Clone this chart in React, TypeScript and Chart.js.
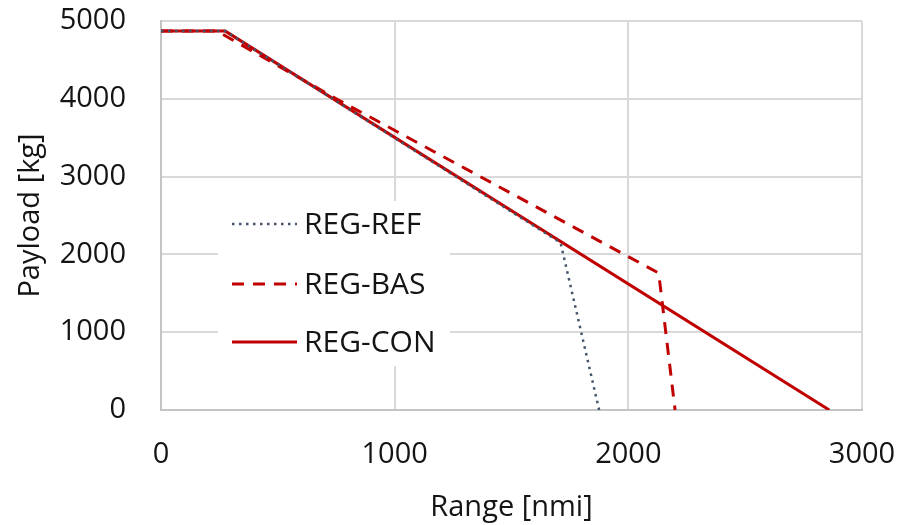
import React, { useEffect, useRef } from "react";
import { Chart, registerables } from "chart.js";

Chart.register(...registerables);

const refRange = [0, 275, 1710, 1875];
const refPayload = [4870, 4870, 2150, 0];
const basRange = [0, 240, 750, 2130, 2200];
const basPayload = [4870, 4870, 4000, 1760, 0];
const conRange = [0, 275, 2860];
const conPayload = [4870, 4870, 0];
const seriesNames = ["REG-REF", "REG-BAS", "REG-CON"];
const xTicks = [0, 1000, 2000, 3000];
const yTicks = [0, 1000, 2000, 3000, 4000, 5000];
const xTitle = "Range [nmi]";
const yTitle = "Payload [kg]";

const FONT = "'Open Sans', 'Noto Sans', sans-serif";
const TEXT = "#141414";
const FS = 29;

const toPts = (xs: number[], ys: number[]) => xs.map((x, i) => ({ x, y: ys[i] }));

const legendPlugin = {
  id: "innerLegend",
  afterDatasetsDraw(chart: any) {
    const ctx = chart.ctx;
    const a = chart.chartArea;
    const boxX = a.left + 57;
    const boxY = a.top + 180;
    ctx.save();
    ctx.fillStyle = "#ffffff";
    ctx.fillRect(boxX, boxY, 232, 165);
    const rows = [224, 284, 342];
    chart.data.datasets.forEach((ds: any, i: number) => {
      const y = rows[i];
      ctx.beginPath();
      ctx.strokeStyle = ds.borderColor;
      ctx.lineWidth = ds.borderWidth;
      ctx.setLineDash(ds.borderDash || []);
      ctx.lineCap = ds.borderCapStyle || "butt";
      ctx.moveTo(a.left + 71, y);
      ctx.lineTo(a.left + 136, y);
      ctx.stroke();
      ctx.setLineDash([]);
      ctx.fillStyle = TEXT;
      ctx.font = `${FS + 1}px ${FONT}`;
      ctx.textBaseline = "middle";
      ctx.textAlign = "left";
      ctx.fillText(ds.label, a.left + 143, y + 1);
    });
    ctx.restore();
  },
};

export default function App() {
  const ref = useRef<HTMLCanvasElement | null>(null);
  useEffect(() => {
    if (!ref.current) return;
    const chart = new Chart(ref.current, {
      type: "line",
      data: {
        datasets: [
          {
            label: seriesNames[0],
            data: toPts(refRange, refPayload),
            borderColor: "#44546A",
            borderWidth: 2.5,
            borderDash: [2.5, 4.5],
            pointRadius: 0,
            fill: false,
          },
          {
            label: seriesNames[1],
            data: toPts(basRange, basPayload),
            borderColor: "#C00000",
            borderWidth: 3,
            borderDash: [12, 9],
            pointRadius: 0,
            fill: false,
          },
          {
            label: seriesNames[2],
            data: toPts(conRange, conPayload),
            borderColor: "#C00000",
            borderWidth: 3,
            pointRadius: 0,
            fill: false,
          },
        ],
      },
      options: {
        animation: false,
        responsive: false,
        layout: { padding: { top: 21, right: 38, left: 0, bottom: 0 } },
        plugins: { legend: { display: false }, tooltip: { enabled: false } },
        scales: {
          x: {
            type: "linear",
            min: 0,
            max: 3000,
            afterBuildTicks: (s: any) => {
              s.ticks = xTicks.map((v) => ({ value: v }));
            },
            afterFit: (s: any) => {
              s.height = 115;
              s.paddingLeft = 0;
              s.paddingRight = 0;
            },
            grid: { color: "#d9d9d9", lineWidth: 2, drawTicks: false },
            border: { color: "#c4c4c4", width: 2 },
            ticks: {
              padding: 27,
              color: TEXT,
              font: { family: FONT, size: FS },
              maxRotation: 0,
              callback: (v: any) => String(v),
            },
            title: {
              display: true,
              text: xTitle,
              color: TEXT,
              font: { family: FONT, size: FS },
              padding: { top: 0, bottom: 0 },
            },
          },
          y: {
            type: "linear",
            min: 0,
            max: 5000,
            afterBuildTicks: (s: any) => {
              s.ticks = yTicks.map((v) => ({ value: v }));
            },
            afterFit: (s: any) => {
              s.width = 161;
              s.paddingTop = 0;
              s.paddingBottom = 0;
            },
            grid: { color: "#d9d9d9", lineWidth: 2, drawTicks: false },
            border: { color: "#c4c4c4", width: 2 },
            ticks: {
              padding: 35,
              color: TEXT,
              font: { family: FONT, size: FS },
              callback: (v: any) => String(v),
            },
            title: {
              display: true,
              text: yTitle,
              color: TEXT,
              font: { family: FONT, size: FS },
              padding: { top: 13, bottom: 0 },
            },
          },
        },
      },
      plugins: [legendPlugin],
    });
    return () => chart.destroy();
  }, []);
  return (
    <div style={{ position: "fixed", left: 0, top: 0, width: 900, height: 525, background: "#fff" }}>
      <canvas ref={ref} width={900} height={525} style={{ width: 900, height: 525, display: "block" }} />
    </div>
  );
}
